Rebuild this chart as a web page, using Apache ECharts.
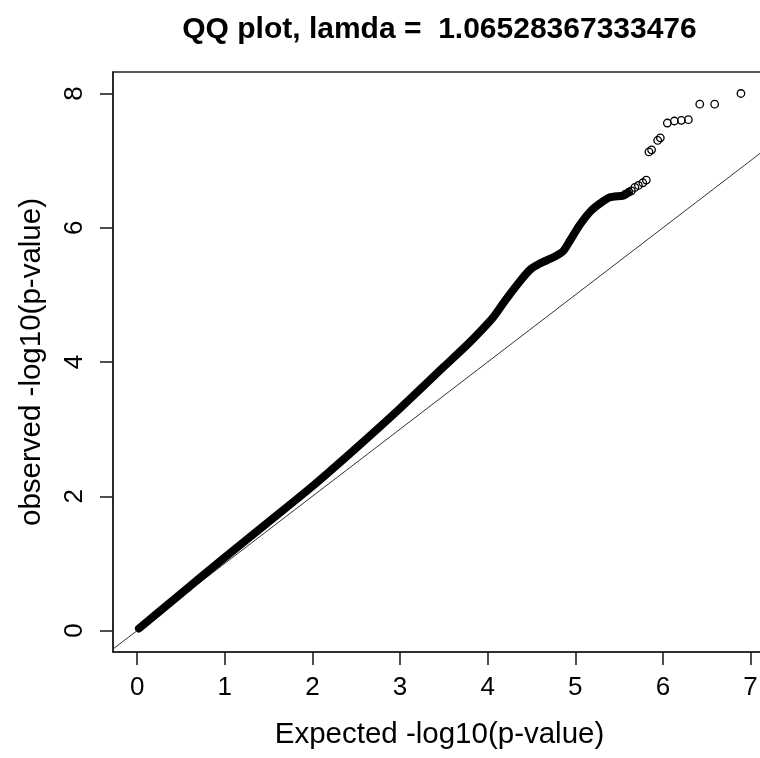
<!DOCTYPE html>
<html><head><meta charset="utf-8">
<script src="https://cdn.jsdelivr.net/npm/echarts@6/dist/echarts.min.js"></script>
<style>html,body{margin:0;padding:0;background:#fff}#c{width:760px;height:758px}</style>
</head><body><div id="c"></div>
<script>
// ---- data ----
const titleText = 'QQ plot, lamda =  1.06528367333476';
const xAxisTitle = 'Expected -log10(p-value)';
const yAxisTitle = 'observed -log10(p-value)';
const xTicks = [0, 1, 2, 3, 4, 5, 6, 7];
const yTicks = [0, 2, 4, 6, 8];
const xRange = [-0.276, 7.176];
const yRange = [-0.32, 8.32];
// dense part of the QQ curve (overlapping points drawn as a band)
const bandExpected = [0.02, 0.5, 1.0, 1.5, 2.0, 2.5, 3.0, 3.5, 3.8, 4.06, 4.18, 4.33, 4.48, 4.60, 4.75, 4.86, 4.94, 5.05, 5.17, 5.28, 5.39, 5.55, 5.60];
const bandObserved = [0.03, 0.55, 1.09, 1.62, 2.15, 2.72, 3.31, 3.93, 4.30, 4.66, 4.88, 5.14, 5.37, 5.47, 5.56, 5.65, 5.81, 6.04, 6.24, 6.36, 6.45, 6.48, 6.52];
// sparse tail points (individual open circles)
const tailExpected = [5.57, 5.61, 5.64, 5.68, 5.72, 5.77, 5.81, 5.84, 5.87, 5.94, 5.97, 6.05, 6.13, 6.21, 6.29, 6.42, 6.59, 6.89];
const tailObserved = [6.50, 6.53, 6.55, 6.60, 6.63, 6.67, 6.71, 7.13, 7.16, 7.30, 7.34, 7.56, 7.59, 7.60, 7.61, 7.84, 7.84, 8.00];
// reference line y = x
const refLine = [-1, 9];

const zip = (a, b) => a.map((v, i) => [v, b[i]]);
const FONT = '"Liberation Sans", Arial, sans-serif';
const INK = '#222';

const chart = echarts.init(document.getElementById('c'), null, {renderer: 'canvas'});
chart.setOption({
  animation: false,
  backgroundColor: '#ffffff',
  title: {
    text: titleText,
    left: 439.5, top: 15, padding: 0, textAlign: 'center',
    textStyle: {fontFamily: FONT, fontSize: 30, fontWeight: 'bold', color: '#000'}
  },
  grid: {
    left: 113, top: 72, width: 653, bottom: 106,
    show: true, borderColor: INK, borderWidth: 1.6, backgroundColor: 'transparent',
    containLabel: false, outerBoundsMode: 'none'
  },
  xAxis: {
    type: 'value', min: xRange[0], max: xRange[1],
    name: xAxisTitle, nameLocation: 'middle', nameGap: 68,
    nameTextStyle: {fontFamily: FONT, fontSize: 29.5, color: '#000'},
    axisLine: {show: true, onZero: false, lineStyle: {color: INK, width: 1.6}},
    axisTick: {show: true, length: 13, customValues: xTicks, lineStyle: {color: INK, width: 1.6}},
    axisLabel: {customValues: xTicks, margin: 23, fontFamily: FONT, fontSize: 26, color: '#000'},
    splitLine: {show: false}
  },
  yAxis: {
    type: 'value', min: yRange[0], max: yRange[1],
    name: yAxisTitle, nameLocation: 'middle', nameGap: 66,
    nameTextStyle: {fontFamily: FONT, fontSize: 29.5, color: '#000'},
    axisLine: {show: true, onZero: false, lineStyle: {color: INK, width: 1.6}},
    axisTick: {show: true, length: 13, customValues: yTicks, lineStyle: {color: INK, width: 1.6}},
    axisLabel: {customValues: yTicks, rotate: 90, margin: 25, fontFamily: FONT, fontSize: 26, color: '#000'},
    splitLine: {show: false}
  },
  series: [
    {
      type: 'line', name: 'y = x', data: zip(refLine, refLine),
      showSymbol: false, symbol: 'none', clip: true, silent: true,
      lineStyle: {color: '#333', width: 1}, z: 1
    },
    {
      type: 'line', name: 'observed (dense)', data: zip(bandExpected, bandObserved),
      showSymbol: false, symbol: 'none', smooth: 0.25, clip: true,
      lineStyle: {color: '#000', width: 8, cap: 'round', join: 'round'}, z: 2
    },
    {
      type: 'scatter', name: 'observed (tail)', data: zip(tailExpected, tailObserved),
      symbol: 'circle', symbolSize: 7.5,
      itemStyle: {color: 'rgba(255,255,255,0)', borderColor: '#000', borderWidth: 1.3, opacity: 1}, z: 3
    }
  ]
});
</script></body></html>
